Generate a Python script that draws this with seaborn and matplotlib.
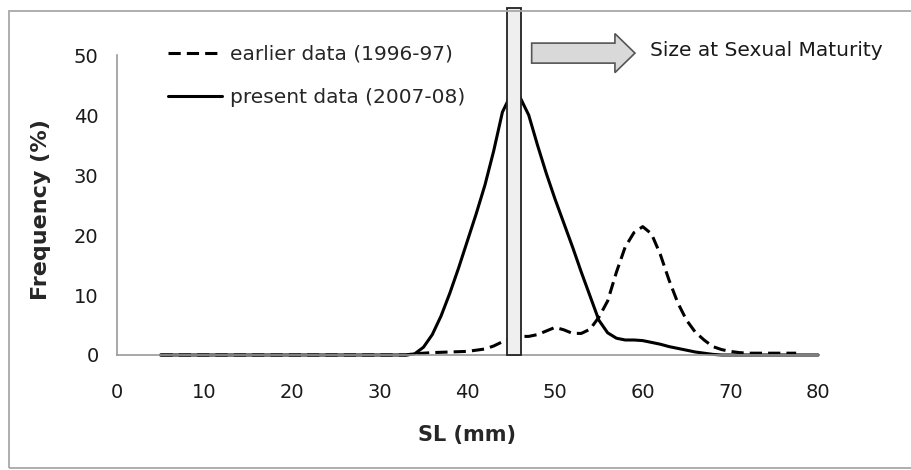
import matplotlib
matplotlib.use('Agg')
import matplotlib.pyplot as plt
import matplotlib.patches as mpatches
import pandas as pd
import seaborn as sns

sns.set_style('white')
plt.rcParams['font.family'] = ['DejaVu Sans']

# SL (mm) vs frequency (%)
sl_earlier = [5, 10, 15, 20, 25, 30, 33, 34, 35, 36, 37, 38, 39, 40, 41, 42, 43, 44, 45,
              46, 47, 48, 49, 50, 51, 52, 53, 54, 55, 56, 57, 58, 59, 60, 61, 62, 63, 64,
              65, 66, 67, 68, 69, 70, 71, 72, 75, 77.5]
freq_earlier = [0, 0, 0, 0, 0, 0, 0, 0.2, 0.3, 0.4, 0.45, 0.5, 0.55, 0.6, 0.8, 1.0, 1.5, 2.2, 2.8,
                3.1, 3.1, 3.4, 4.0, 4.6, 4.2, 3.6, 3.6, 4.3, 6.3, 9.0, 13.8, 18.0, 20.4, 21.4, 20.2, 16.8, 12.5, 8.7,
                5.8, 3.8, 2.5, 1.4, 0.9, 0.6, 0.4, 0.3, 0.3, 0.3]

sl_present = [5, 10, 15, 20, 25, 30, 33, 34, 35, 36, 37, 38, 39, 40, 41, 42, 43, 44, 45,
              46, 47, 48, 49, 50, 51, 52, 53, 54, 55, 56, 57, 58, 59, 60, 61, 62, 63, 64,
              65, 66, 67, 68, 69, 70, 75, 80]
freq_present = [0, 0, 0, 0, 0, 0, 0, 0.2, 1.3, 3.4, 6.5, 10.3, 14.5, 19.0, 23.5, 28.3, 34.0, 40.5, 43.5,
                43.0, 40.0, 35.0, 30.3, 26.0, 22.0, 18.0, 13.8, 9.8, 5.8, 3.7, 2.8, 2.5, 2.5, 2.4, 2.1, 1.8, 1.4, 1.1,
                0.8, 0.5, 0.3, 0.1, 0, 0, 0, 0]

labels = ['earlier data (1996-97)', 'present data (2007-08)']
maturity_band = (44.5, 46.1)   # gray bar = size at sexual maturity

earlier = pd.DataFrame({'SL': sl_earlier, 'Freq': freq_earlier})
present = pd.DataFrame({'SL': sl_present, 'Freq': freq_present})

fig = plt.figure(figsize=(9.11, 4.70), dpi=100)
ax = fig.add_axes([0.128, 0.2447, 0.770, 0.638])

sns.lineplot(data=earlier, x='SL', y='Freq', ax=ax, color='black', lw=2.2,
             dashes=False, label=labels[0])
sns.lineplot(data=present, x='SL', y='Freq', ax=ax, color='black', lw=2.2,
             label=labels[1])
ax.lines[0].set_dashes((4, 2))
for ln in ax.lines:
    ln.set_clip_on(False)

ax.set_xlim(0, 80)
ax.set_ylim(0, 50)
ax.set_xticks(range(0, 81, 10))
ax.set_xticks(range(5, 80, 10), minor=True)
ax.set_yticks(range(0, 51, 10))

for s in ['top', 'right']:
    ax.spines[s].set_visible(False)
for s in ['left', 'bottom']:
    ax.spines[s].set_color('#9a9a9a')
    ax.spines[s].set_linewidth(1.2)

ax.tick_params(axis='x', which='both', direction='inout', length=8.5, width=1,
               color='#9a9a9a', pad=16, labelsize=14, labelcolor='#1a1a1a')
ax.tick_params(axis='y', direction='out', length=5, width=1,
               color='#9a9a9a', pad=8, labelsize=14, labelcolor='#1a1a1a')

ax.set_xlabel('SL (mm)', fontsize=15, fontweight='bold')
ax.set_ylabel('Frequency (%)', fontsize=16, fontweight='bold')
ax.xaxis.set_label_coords(0.5, -0.233)
ax.yaxis.set_label_coords(-0.094, 0.485)

# maturity bar, poking out above the plot area
ax.axvspan(maturity_band[0], maturity_band[1], ymin=0, ymax=57.8 / 50,
           facecolor='#efefef', edgecolor='#222222', lw=1.3, clip_on=False, zorder=5)

leg = ax.legend(loc='upper left', bbox_to_anchor=(168 / 911, 1 - 45 / 470),
                bbox_transform=fig.transFigure, frameon=False, fontsize=14.5,
                handlelength=2.7, handletextpad=0.4, labelspacing=1.2,
                borderpad=0, borderaxespad=0)
leg.get_lines()[0].set_dashes((4, 2))

# arrow + note
arrow = mpatches.FancyArrow(0.5836, 0.887, 0.1134, 0, width=0.0426, head_width=0.083,
                            head_length=0.022, length_includes_head=True,
                            transform=fig.transFigure, fc='#d9d9d9', ec='#555555', lw=1.2)
fig.add_artist(arrow)
fig.text(650 / 911, 1 - 50 / 470, 'Size at Sexual Maturity', ha='left', va='center',
         fontsize=14.5, color='#1a1a1a')

# outer frame of the chart area (open on the right, as in the original crop)
frame = mpatches.Rectangle((9 / 911, 2 / 470), 1.1, 0.9723, transform=fig.transFigure,
                           fill=False, ec='#a8a8a8', lw=1.3)
fig.add_artist(frame)

fig.savefig('out.png', dpi=100)
